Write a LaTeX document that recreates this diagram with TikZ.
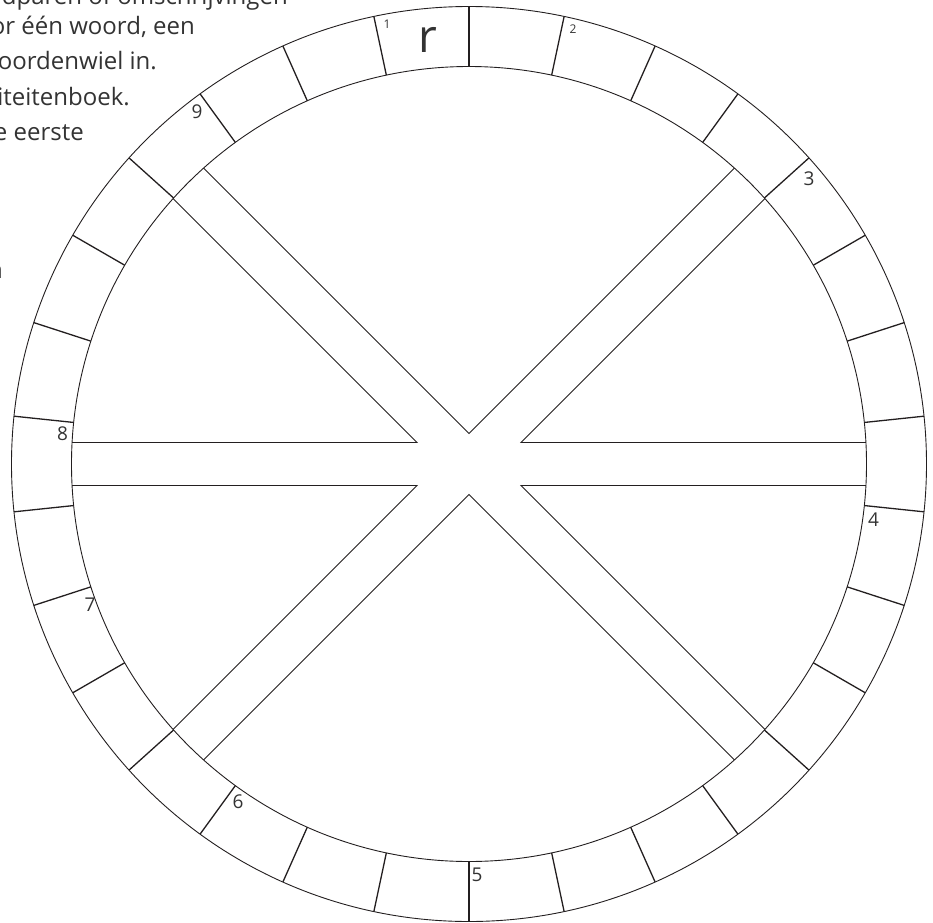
\documentclass[tikz,border=0pt]{standalone}
\usepackage{fontspec}
\setmainfont{Open Sans}
\usetikzlibrary{calc}
\definecolor{ink}{HTML}{231F20}
\definecolor{txt}{HTML}{333333}
\begin{document}
\begin{tikzpicture}[x=1pt,y=1pt,
  ring/.style={draw=ink,line width=0.9pt},
  divider/.style={draw=ink,line width=1.3pt},
  bandline/.style={draw=ink,line width=0.9pt,line join=miter},
  para/.style={anchor=base east,inner sep=0pt,text=txt,font=\fontsize{24}{28}\selectfont},
  biglbl/.style={inner sep=0pt,text=txt,font=\fontsize{19}{21}\selectfont},
  smalllbl/.style={inner sep=0pt,text=txt,font=\fontsize{12}{14}\selectfont},
  letter/.style={inner sep=0pt,text=txt,font=\fontsize{46}{50}\selectfont}]
\useasboundingbox (-469,-458) rectangle (464,464);
% paragraph fragments at top left (cut by the picture's edge)
\node[para] (t1) at (-181,459) {woordparen of omschrijvingen};
\node[para] (t2) at (-274,429) {or één woord, een};
\node[para] (t3) at (-312,394) {woordenwiel in.};
\node[para] (t4) at (-339,359) {activiteitenboek.};
\node[para] (t5) at (-385,324) {e eerste};
\node[para] (t6) at (-466,186) {in};
% wheel
\def\Ro{457.5}
\def\Ri{397.5}
\draw[ring] (0,0) circle (\Ro);
\draw[ring] (0,0) circle (\Ri);
\foreach \k in {0,...,29}
  \draw[divider] (90+12*\k:\Ri) -- (90+12*\k:\Ro);
% spokes (three bands crossing in the centre)
\begin{scope}
  \clip (0,0) circle (\Ri);
  \foreach \b/\d/\u/\v in {90/30.41/45/135, 157.5/56.18/135/180, 202.5/56.18/180/225,
                           270/30.41/225/315, 337.5/56.18/315/360, 22.5/56.18/0/45}
    \draw[bandline] ($(\b:\d)+(\u:520)$) -- (\b:\d) -- ($(\b:\d)+(\v:520)$);
\end{scope}
% labels
\node[letter] (r) at (-41.5,424.5) {r};
\node[smalllbl] (n1) at (-82,439.5) {1};
\node[smalllbl] (n2) at (104,434.5) {2};
\node[biglbl] (n3) at (340,285) {3};
\node[biglbl] (n4) at (404.5,-55.5) {4};
\node[biglbl] (n5) at (8,-411) {5};
\node[biglbl] (n6) at (-231,-337.5) {6};
\node[biglbl] (n7) at (-379,-141) {7};
\node[biglbl] (n8) at (-406.5,30) {8};
\node[biglbl] (n9) at (-272,352) {9};
\end{tikzpicture}
\end{document}
